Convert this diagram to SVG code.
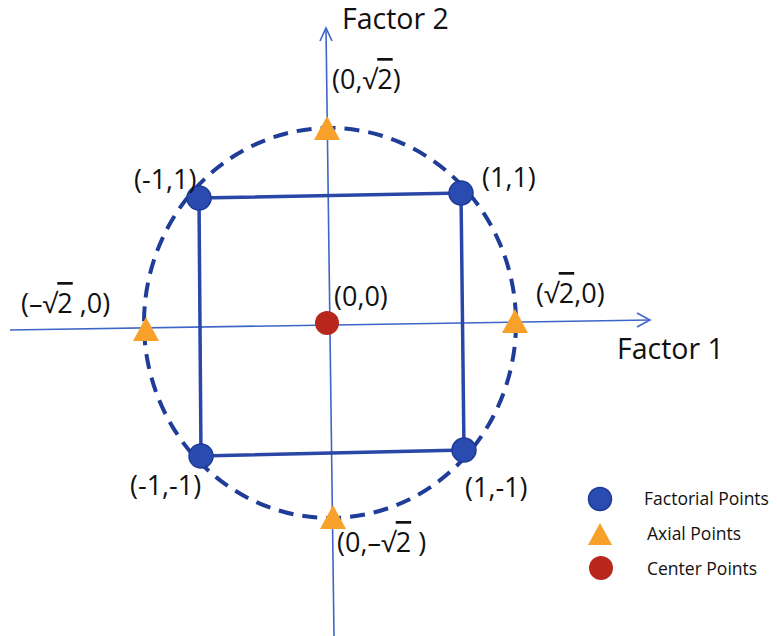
<svg xmlns="http://www.w3.org/2000/svg" width="777" height="636" viewBox="0 0 777 636">
<style>
.lbl{font-family:"Open Sans","Liberation Sans",sans-serif;font-size:27px;fill:#111}
.ax{font-family:"Open Sans","Liberation Sans",sans-serif;font-size:28.5px;fill:#111}
.lg{font-family:"Open Sans","Liberation Sans",sans-serif;font-size:17.5px;fill:#111}
.ov{text-decoration:overline}
.axis{stroke:#3d66c8;stroke-width:1.6;fill:none}
.fac{fill:#2a4bb0;stroke:#1d3a95;stroke-width:1.5}
.axl{fill:#f7a02a}
.cen{fill:#b8271c}
</style>
<rect width="777" height="636" fill="#fff"/>
<g id="connectors">
<line class="axis" x1="326" y1="28" x2="334" y2="636"/>
<polyline class="axis" points="320,41 326,28 332,41"/>
<line class="axis" x1="10" y1="330" x2="650" y2="320"/>
<polyline class="axis" points="637,313 650,320 637,327"/>
<ellipse cx="330" cy="323" rx="186" ry="195" fill="none" stroke="#1f3c98" stroke-width="4" stroke-dasharray="15,9"/>
<polygon points="199,198 461,193 464,450 201,456" fill="none" stroke="#2a47a8" stroke-width="3.5"/>
</g>
<g id="factor2"><text class="ax" x="342" y="29">Factor 2</text></g>
<g id="factor1"><text class="ax" x="617" y="359">Factor 1</text></g>
<g id="p_m1_1"><circle class="fac" cx="199" cy="198" r="12"/><text class="lbl" x="134" y="189">(-1,1)</text></g>
<g id="p_1_1"><circle class="fac" cx="461" cy="193" r="12"/><text class="lbl" x="482" y="187">(1,1)</text></g>
<g id="p_m1_m1"><circle class="fac" cx="201" cy="456" r="12"/><text class="lbl" x="130" y="495">(-1,-1)</text></g>
<g id="p_1_m1"><circle class="fac" cx="464" cy="450" r="12"/><text class="lbl" x="465" y="497">(1,-1)</text></g>
<g id="p_0_0"><circle class="cen" cx="327" cy="323" r="12"/><text class="lbl" x="334" y="306">(0,0)</text></g>
<g id="p_0_r2"><polygon class="axl" points="327,116 340,140 314,140"/><text class="lbl" x="332" y="89">(0,√<tspan class="ov">2</tspan>)</text></g>
<g id="p_0_mr2"><polygon class="axl" points="333,505 346,529 320,529"/><text class="lbl" x="337" y="552">(0,–√<tspan class="ov">2</tspan> )</text></g>
<g id="p_mr2_0"><polygon class="axl" points="146,317 159,341 133,341"/><text class="lbl" x="21" y="313">(–√<tspan class="ov">2</tspan> ,0)</text></g>
<g id="p_r2_0"><polygon class="axl" points="515,309 528,333 502,333"/><text class="lbl" x="536" y="303">(√<tspan class="ov">2</tspan>,0)</text></g>
<g id="legend">
<circle class="fac" cx="600" cy="499" r="11.5"/><text class="lg" x="644" y="505">Factorial Points</text>
<polygon class="axl" points="600,523 612,545 588,545"/><text class="lg" x="647" y="540">Axial Points</text>
<circle class="cen" cx="601" cy="568" r="12"/><text class="lg" x="647" y="575">Center Points</text>
</g>
</svg>
